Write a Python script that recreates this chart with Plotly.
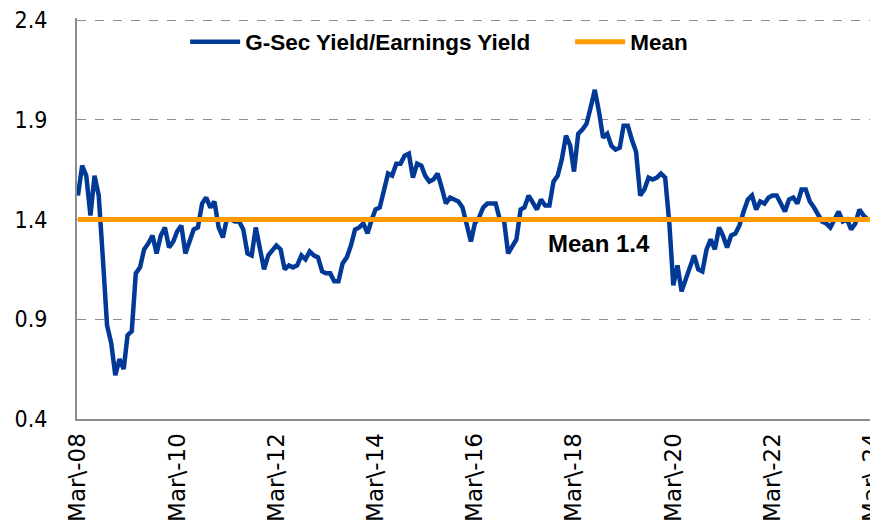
import pandas as pd
import plotly.graph_objects as go

# Monthly categories Mar-08 .. Mar-24
months = pd.date_range("2008-03-01", "2024-03-01", freq="MS").strftime("%Y-%m-%d").tolist()

gsec_ey_ratio = [
    1.52, 1.67, 1.62, 1.42, 1.62, 1.52, 1.20, 0.87, 0.78, 0.62, 0.70, 0.65,
    0.82, 0.84, 1.13, 1.16, 1.25, 1.28, 1.32, 1.23, 1.32, 1.36, 1.26, 1.29,
    1.34, 1.37, 1.23, 1.30, 1.35, 1.36, 1.48, 1.51, 1.46, 1.49, 1.36, 1.31,
    1.40, 1.40, 1.39, 1.39, 1.35, 1.23, 1.22, 1.36, 1.24, 1.15, 1.22, 1.25,
    1.27, 1.25, 1.15, 1.17, 1.16, 1.17, 1.22, 1.20, 1.24, 1.22, 1.21, 1.14,
    1.13, 1.13, 1.09, 1.09, 1.18, 1.21, 1.27, 1.35, 1.36, 1.38, 1.33, 1.40,
    1.45, 1.46, 1.55, 1.63, 1.62, 1.68, 1.68, 1.72, 1.73, 1.61, 1.68, 1.67,
    1.62, 1.59, 1.60, 1.63, 1.56, 1.48, 1.51, 1.50, 1.49, 1.46, 1.38, 1.29,
    1.38, 1.41, 1.46, 1.48, 1.48, 1.48, 1.40, 1.40, 1.23, 1.27, 1.30, 1.45,
    1.46, 1.52, 1.49, 1.45, 1.50, 1.47, 1.47, 1.59, 1.62, 1.70, 1.82, 1.77,
    1.64, 1.83, 1.85, 1.88, 1.96, 2.05, 1.94, 1.81, 1.83, 1.77, 1.75, 1.76,
    1.87, 1.87, 1.80, 1.74, 1.52, 1.55, 1.61, 1.60, 1.61, 1.63, 1.61, 1.38,
    1.07, 1.17, 1.04, 1.11, 1.16, 1.22, 1.15, 1.14, 1.25, 1.30, 1.25, 1.36,
    1.32, 1.26, 1.32, 1.33, 1.37, 1.44, 1.50, 1.52, 1.45, 1.49, 1.48, 1.51,
    1.52, 1.52, 1.48, 1.44, 1.50, 1.51, 1.48, 1.55, 1.55, 1.49, 1.46, 1.42,
    1.39, 1.38, 1.36, 1.40, 1.44, 1.39, 1.40, 1.35, 1.38, 1.45, 1.42, 1.40, 1.40,
]

mean_value = 1.4
mean_series = [mean_value for _ in months]

tick_dates = ["2008-03-01", "2010-03-01", "2012-03-01", "2014-03-01", "2016-03-01",
              "2018-03-01", "2020-03-01", "2022-03-01", "2024-03-01"]
tick_labels = ["Mar\\-08", "Mar\\-10", "Mar\\-12", "Mar\\-14", "Mar\\-16",
               "Mar\\-18", "Mar\\-20", "Mar\\-22", "Mar\\-24"]
y_ticks = [0.4, 0.9, 1.4, 1.9, 2.4]
y_tick_labels = ["0.4", "0.9", "1.4", "1.9", "2.4"]

BLUE = "#003A96"
ORANGE = "#FF9A00"

fig = go.Figure()
fig.add_trace(go.Scatter(x=months, y=gsec_ey_ratio, mode="lines",
                         name="G-Sec Yield/Earnings Yield",
                         line=dict(color=BLUE, width=4.5)))
fig.add_trace(go.Scatter(x=months, y=mean_series, mode="lines",
                         name="Mean", line=dict(color=ORANGE, width=5)))

fig.add_annotation(x="2018-09-01", y=1.28, text="<b>Mean 1.4</b>", showarrow=False,
                   font=dict(family="Liberation Sans, Arial, sans-serif", size=24, color="black"))

# The page body has an 8px default margin, so the figure is 8px smaller and margins shifted.
fig.update_layout(
    width=870, height=518,
    margin=dict(l=69, r=0, t=10, b=107, autoexpand=False),
    paper_bgcolor="white", plot_bgcolor="white",
    showlegend=True,
    legend=dict(orientation="h", x=0.135, xanchor="left", y=0.94, yanchor="middle",
                font=dict(family="Liberation Sans, Arial, sans-serif", size=22.5, color="black",
                          weight="bold"),
                bgcolor="rgba(0,0,0,0)", itemwidth=50, entrywidth=320, tracegroupgap=0),
    xaxis=dict(type="date", range=["2008-02-23", "2024-04-16"],
               tickmode="array", tickvals=tick_dates, ticktext=tick_labels,
               tickangle=-90, showgrid=False, zeroline=False,
               showline=True, linecolor="#8C8C8C", linewidth=2, ticks="",
               ticklabelstandoff=3, ticklabeloverflow="allow",
               tickfont=dict(family="DejaVu Sans, sans-serif", size=23, color="black")),
    yaxis=dict(range=[0.4, 2.41], tickmode="array", tickvals=y_ticks, ticktext=y_tick_labels,
               showgrid=True, gridcolor="#8C8C8C", griddash="dash", gridwidth=1,
               zeroline=False, showline=True, linecolor="#8C8C8C", linewidth=2, ticks="",
               ticklabelstandoff=23, ticklabeloverflow="allow",
               tickfont=dict(family="DejaVu Sans Condensed, sans-serif",
                             size=23, color="black")),
)

fig.write_html("out.html")
